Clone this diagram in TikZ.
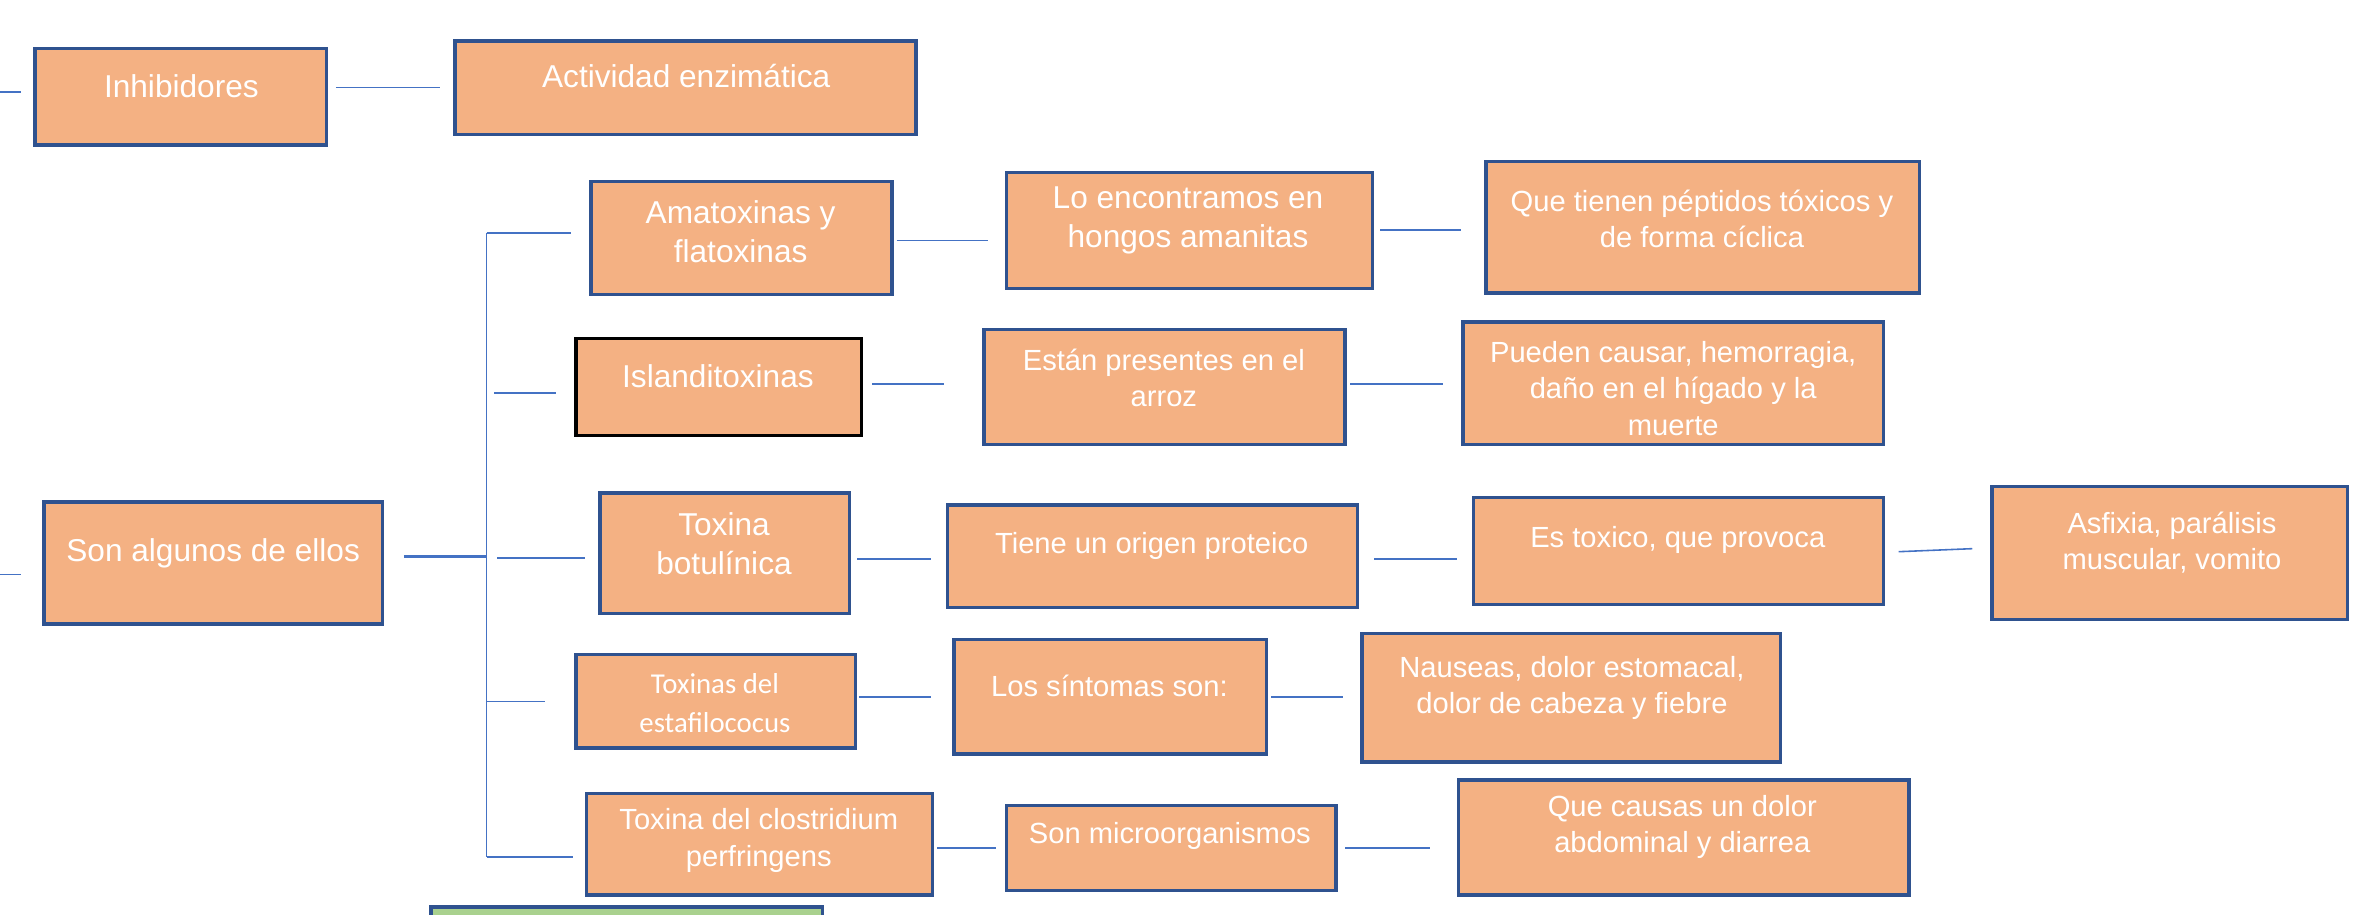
\documentclass[tikz,border=0pt]{standalone}
\usepackage{fontspec}
\setmainfont{Liberation Sans}
\newfontfamily\calibri{Carlito}
\usetikzlibrary{fit,calc}
\definecolor{naranja}{HTML}{F4B183}
\definecolor{bordeazul}{HTML}{2F528F}
\definecolor{lineaazul}{HTML}{4472C4}
\definecolor{verde}{HTML}{A9D18E}
\begin{document}
\begin{tikzpicture}[x=0.015115cm, y=-0.015115cm]
	    \tikzset{caja/.style={draw=bordeazul, line width=1pt, fill=naranja, inner sep=0pt}}
	    \tikzset{texto/.style={text=white, align=center, font=\fontsize{9}{11.1}\selectfont}}
	    \tikzset{chico/.style={text=white, align=center, font=\fontsize{8.3}{10.3}\selectfont}}
	    \tikzset{calib/.style={text=white, align=center, font=\calibri\fontsize{8.2}{11.2}\selectfont}}
	    \tikzset{enlace/.style={draw=lineaazul, line width=0.45pt}}
	    \useasboundingbox (0,0) rectangle (1568,605);
	    % cajas
	    \node[caja, fit={(23,32) (216,96)}] (inh) {};
	    \node[caja, fit={(301,27) (606,89)}] (act) {};
	    \node[caja, fit={(29,332) (253,413)}] (son) {};
	    \node[caja, fit={(391,120) (590,195)}] (ama) {};
	    \node[caja, draw=black, fit={(381,224) (570,288)}] (isl) {};
	    \node[caja, fit={(397,326) (562,406)}] (bot) {};
	    \node[caja, fit={(381,433) (566,495)}] (est) {};
	    \node[caja, fit={(388,525) (617,592)}] (clo) {};
	    \node[caja, fit={(666,114) (908,191)}] (hon) {};
	    \node[caja, fit={(651,218) (890,294)}] (arr) {};
	    \node[caja, fit={(627,334) (898,402)}] (pro) {};
	    \node[caja, fit={(631,423) (838,499)}] (sin) {};
	    \node[caja, fit={(666,533) (884,589)}] (mic) {};
	    \node[caja, fit={(983,107) (1270,194)}] (pep) {};
	    \node[caja, fit={(968,213) (1246,294)}] (hem) {};
	    \node[caja, fit={(975,329) (1246,400)}] (tox) {};
	    \node[caja, fit={(901,419) (1178,504)}] (nau) {};
	    \node[caja, fit={(965,516) (1263,592)}] (dia) {};
	    \node[caja, fit={(1318,322) (1553,410)}] (asf) {};
	    \node[caja, fill=verde, fit={(285,600) (544,640)}] (ver) {};
	    % textos
	    \node[texto] (inh-t) at (120,57) {Inhibidores};
	    \node[texto] (act-t) at (454,50) {Actividad enzimática};
	    \node[texto] (son-t) at (141,366) {Son algunos de ellos};
	    \node[texto] (ama-t) at (490,153) {Amatoxinas y\\flatoxinas};
	    \node[texto] (isl-t) at (475,249) {Islanditoxinas};
	    \node[texto] (bot-t) at (479,360) {Toxina\\botulínica};
	    \node[calib] (est-t) at (473,465) {Toxinas del\\estafilococus};
	    \node[chico] (clo-t) at (502,556) {Toxina del clostridium\\perfringens};
	    \node[texto] (hon-t) at (786,146) {Lo encontramos en\\hongos amanitas};
	    \node[chico] (arr-t) at (770,250) {Están presentes en el\\arroz};
	    \node[chico] (pro-t) at (762,361) {Tiene un origen proteico};
	    \node[chico] (sin-t) at (734,454) {Los síntomas son:};
	    \node[chico] (mic-t) at (774,553) {Son microorganismos};
	    \node[chico] (pep-t) at (1126,145) {Que tienen péptidos tóxicos y\\de forma cíclica};
	    \node[chico] (hem-t) at (1107,257) {Pueden causar, hemorragia,\\daño en el hígado y la\\muerte};
	    \node[chico] (tox-t) at (1110,357) {Es toxico, que provoca};
	    \node[chico] (nau-t) at (1040,455) {Nauseas, dolor estomacal,\\dolor de cabeza y fiebre};
	    \node[chico] (dia-t) at (1113,547) {Que causas un dolor\\abdominal y diarrea};
	    \node[chico] (asf-t) at (1437,359) {Asfixia, parálisis\\muscular, vomito};
	    % lineas
	    \coordinate (borde1) at (0,61);
	    \coordinate (borde2) at (0,380);
	    \coordinate (tope) at (322,154);
	    \coordinate (pie) at (322,567);
	    \draw[enlace] (borde1) -- ($(inh.west |- borde1)+(-8,0)$);
	    \draw[enlace] ($(inh.east |- 0,58)+(5,0)$) -- ($(act.west |- 0,58)+(-9,0)$);
	    \draw[enlace] (borde2) -- ($(son.west |- borde2)+(-14,0)$);
	    \draw[enlace, line width=0.8pt] ($(son.east |- 0,368)+(13,0)$) -- (tope |- 0,368);
	    \draw[enlace] (tope) -- (pie);
	    \draw[enlace] (tope) -- ($(ama.west |- tope)+(-12,0)$);
	    \draw[enlace] ($(tope |- 0,260)+(5,0)$) -- ($(isl.west |- 0,260)+(-12,0)$);
	    \draw[enlace] ($(tope |- 0,369)+(7,0)$) -- ($(bot.west |- 0,369)+(-9,0)$);
	    \draw[enlace] (tope |- 0,464) -- ($(est.west |- 0,464)+(-19,0)$);
	    \draw[enlace] (pie) -- ($(clo.west |- pie)+(-8,0)$);
	    \draw[enlace] ($(ama.east |- 0,159)+(2,0)$) -- ($(hon.west |- 0,159)+(-11,0)$);
	    \draw[enlace] ($(isl.east |- 0,254)+(6,0)$) -- ($(arr.west |- 0,254)+(-25,0)$);
	    \draw[enlace] ($(bot.east |- 0,370)+(4,0)$) -- ($(pro.west |- 0,370)+(-10,0)$);
	    \draw[enlace] ($(est.east |- 0,461)+(1,0)$) -- ($(sin.west |- 0,461)+(-14,0)$);
	    \draw[enlace] ($(clo.east |- 0,561)+(2,0)$) -- ($(mic.west |- 0,561)+(-6,0)$);
	    \draw[enlace] ($(hon.east |- 0,152)+(4,0)$) -- ($(pep.west |- 0,152)+(-15,0)$);
	    \draw[enlace] ($(arr.east |- 0,254)+(2,0)$) -- ($(hem.west |- 0,254)+(-12,0)$);
	    \draw[enlace] ($(pro.east |- 0,370)+(10,0)$) -- ($(tox.west |- 0,370)+(-10,0)$);
	    \draw[enlace] ($(sin.east |- 0,461)+(2,0)$) -- ($(nau.west |- 0,461)+(-11,0)$);
	    \draw[enlace] ($(mic.east |- 0,561)+(5,0)$) -- ($(dia.west |- 0,561)+(-18,0)$);
	    \draw[enlace] ($(tox.east |- 0,365)+(9,0)$) -- ($(asf.west |- 0,363)+(-12,0)$);
\end{tikzpicture}
\end{document}
